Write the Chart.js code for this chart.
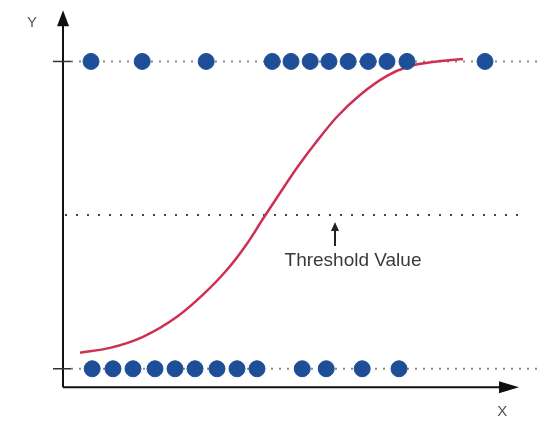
<!DOCTYPE html>
<html>
<head>
<meta charset="utf-8">
<script src="https://cdn.jsdelivr.net/npm/chart.js@4.4.0/dist/chart.umd.min.js"></script>
<style>
  html, body { margin: 0; padding: 0; background: #fff; }
  #wrap { width: 541px; height: 421px; position: relative; }
</style>
</head>
<body>
<div id="wrap"><canvas id="chart"></canvas></div>
<script>
// class 1 samples (y = 1) and class 0 samples (y = 0), x positions
const positiveX = [0.7, 1.98, 3.58, 5.23, 5.7, 6.18, 6.65, 7.13, 7.63, 8.1, 8.6, 10.55];
const negativeX = [0.73, 1.25, 1.75, 2.3, 2.8, 3.3, 3.85, 4.35, 4.85, 5.98, 6.58, 7.48, 8.4];

// sigmoid curve
const curveX = [0.425, 1.175, 2.0, 2.85, 3.5, 4.1, 4.6, 5.0, 5.425, 5.85, 6.35, 6.85, 7.425, 8.1, 8.6, 9.35, 10.0];
const curveY = [0.052, 0.068, 0.104, 0.169, 0.241, 0.322, 0.407, 0.488, 0.572, 0.654, 0.741, 0.82, 0.891, 0.953, 0.982, 1.0, 1.008];

const classLevels = [1, 0];
const threshold = 0.5;
const thresholdLabel = 'Threshold Value';
const axisLabels = ['X', 'Y'];

// axes, arrows, guide lines and labels
const sketchAxes = {
    id: 'sketchAxes',
    beforeDatasetsDraw(chart) {
        const ctx = chart.ctx;
        const xs = chart.scales.x, ys = chart.scales.y;
        const right = chart.chartArea.right;
        ctx.save();
        ctx.lineWidth = 2;
        // dotted rows for the two classes
        ctx.strokeStyle = '#8a8a8a';
        ctx.setLineDash([2, 6]);
        classLevels.forEach(v => {
            const py = ys.getPixelForValue(v);
            ctx.beginPath();
            ctx.moveTo(xs.getPixelForValue(0.2), py);
            ctx.lineTo(right, py);
            ctx.stroke();
        });
        // threshold line
        ctx.strokeStyle = '#444';
        ctx.setLineDash([2, 9]);
        const ty = ys.getPixelForValue(threshold);
        ctx.beginPath();
        ctx.moveTo(xs.getPixelForValue(0.05), ty);
        ctx.lineTo(xs.getPixelForValue(11.6), ty);
        ctx.stroke();
        ctx.restore();
    },
    afterDatasetsDraw(chart) {
        const ctx = chart.ctx;
        const xs = chart.scales.x, ys = chart.scales.y;
        const ox = xs.getPixelForValue(0);
        const oy = ys.getPixelForValue(-0.06);
        const tipY = ys.getPixelForValue(1.167);
        const tipX = xs.getPixelForValue(11.4);
        ctx.save();
        ctx.strokeStyle = '#111';
        ctx.fillStyle = '#111';
        ctx.lineWidth = 2;
        ctx.beginPath();
        ctx.moveTo(ox, oy);
        ctx.lineTo(ox, tipY + 10);
        ctx.moveTo(ox, oy);
        ctx.lineTo(tipX - 12, oy);
        ctx.stroke();
        // arrowheads
        ctx.beginPath();
        ctx.moveTo(ox, tipY);
        ctx.lineTo(ox - 6, tipY + 16);
        ctx.lineTo(ox + 6, tipY + 16);
        ctx.closePath();
        ctx.fill();
        ctx.beginPath();
        ctx.moveTo(tipX, oy);
        ctx.lineTo(tipX - 20, oy - 6);
        ctx.lineTo(tipX - 20, oy + 6);
        ctx.closePath();
        ctx.fill();
        // ticks at class levels
        ctx.lineWidth = 1.5;
        ctx.strokeStyle = '#333';
        classLevels.forEach(v => {
            const py = ys.getPixelForValue(v);
            ctx.beginPath();
            ctx.moveTo(ox - 10, py);
            ctx.lineTo(ox + 8, py);
            ctx.stroke();
        });
        // axis labels
        ctx.fillStyle = '#555';
        ctx.font = '15px "Liberation Sans", Arial, sans-serif';
        ctx.textAlign = 'center';
        ctx.textBaseline = 'middle';
        ctx.fillText(axisLabels[1], ox - 31, ys.getPixelForValue(1.125));
        ctx.fillText(axisLabels[0], xs.getPixelForValue(10.98), ys.getPixelForValue(-0.14));
        // threshold annotation
        const ax = xs.getPixelForValue(6.8);
        const ty = ys.getPixelForValue(threshold);
        ctx.strokeStyle = '#222';
        ctx.fillStyle = '#222';
        ctx.lineWidth = 2;
        ctx.beginPath();
        ctx.moveTo(ax, ty + 14);
        ctx.lineTo(ax, ty + 31);
        ctx.stroke();
        ctx.beginPath();
        ctx.moveTo(ax, ty + 7);
        ctx.lineTo(ax - 4, ty + 16);
        ctx.lineTo(ax + 4, ty + 16);
        ctx.closePath();
        ctx.fill();
        ctx.fillStyle = '#3a3a3a';
        ctx.font = '19px "Liberation Sans", Arial, sans-serif';
        ctx.textBaseline = 'alphabetic';
        ctx.fillText(thresholdLabel, xs.getPixelForValue(7.25), ty + 51);
        ctx.restore();
    }
};

const ctx = document.getElementById('chart');
new Chart(ctx, {
    type: 'scatter',
    data: {
        datasets: [
            {
                data: positiveX.map(x => ({ x: x, y: 1 })),
                backgroundColor: '#1f4e99',
                borderColor: '#1f4e99',
                pointRadius: 8,
                order: 0
            },
            {
                data: negativeX.map(x => ({ x: x, y: 0 })),
                backgroundColor: '#1f4e99',
                borderColor: '#1f4e99',
                pointRadius: 8,
                order: 0
            },
            {
                data: curveX.map((x, i) => ({ x: x, y: curveY[i] })),
                showLine: true,
                borderColor: '#cf2f55',
                borderWidth: 2.5,
                pointRadius: 0,
                cubicInterpolationMode: 'monotone',
                order: 1
            }
        ]
    },
    options: {
        responsive: true,
        maintainAspectRatio: false,
        animation: false,
        layout: { padding: 0, autoPadding: false },
        plugins: { legend: { display: false }, tooltip: { enabled: false } },
        scales: {
            x: { type: 'linear', display: false, min: -1.575, max: 11.95 },
            y: { type: 'linear', display: false, min: -0.17, max: 1.2 }
        }
    },
    plugins: [sketchAxes]
});
</script>
</body>
</html>
